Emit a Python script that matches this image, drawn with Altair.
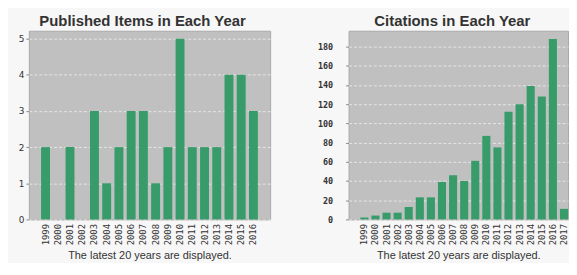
import altair as alt
import pandas as pd

years_pub = [str(y) for y in range(1999, 2017)]
items = [2, 0, 2, 0, 3, 1, 2, 3, 3, 1, 2, 5, 2, 2, 2, 4, 4, 3]

years_cit = [str(y) for y in range(1999, 2018)]
citations = [2, 4, 7, 7, 13, 23, 23, 39, 46, 40, 61, 87, 75, 112, 120, 139, 128, 188, 11]

pub_ticks = [0, 1, 2, 3, 4, 5]
cit_ticks = [0, 20, 40, 60, 80, 100, 120, 140, 160, 180]

subtitle = "The latest 20 years are displayed."
BAR = "#389c6a"
TXT = "#333333"

df1 = pd.DataFrame({"year": years_pub, "count": items})
df2 = pd.DataFrame({"year": years_cit, "count": citations})


def make(df, years, ticks, ymax, w, title, dx, ylab_font, ylab_weight, ylab_size, lab_pad,
         min_ext, p_outer, align):
    return alt.Chart(df).mark_bar(color=BAR).encode(
        x=alt.X("year:O", sort=years,
                scale=alt.Scale(paddingInner=0.27, paddingOuter=p_outer, align=align),
                axis=alt.Axis(title=subtitle, labelAngle=-90, ticks=False, domain=False,
                              labelFont="DejaVu Sans Mono", labelFontSize=9,
                              labelColor=TXT, labelPadding=4,
                              titleFont="Liberation Sans", titleFontSize=11,
                              titleFontWeight="normal", titleColor=TXT, titlePadding=5)),
        y=alt.Y("count:Q", scale=alt.Scale(domain=[0, ymax], nice=False),
                axis=alt.Axis(title=None, values=ticks, format="d", domain=False,
                              grid=True, gridColor="#eeeeee", gridDash=[3, 2], gridOpacity=0.8,
                              tickSize=3, tickColor="#888888",
                              labelFont=ylab_font, labelFontWeight=ylab_weight,
                              labelFontSize=ylab_size, labelColor=TXT,
                              labelPadding=lab_pad, minExtent=min_ext)),
    ).properties(
        width=w, height=190,
        title=alt.TitleParams(title, fontSize=15, font="Liberation Sans", fontWeight="bold",
                              color=TXT, anchor="middle", frame="group", dx=dx, offset=2),
    )


left = make(df1, years_pub, pub_ticks, 5.22, 243, "Published Items in Each Year", -7,
            "DejaVu Sans", "normal", 9, 2, 20, 1, 0.5)
right = make(df2, years_cit, cit_ticks, 196.5, 221, "Citations in Each Year", -6,
             "DejaVu Sans Mono", "bold", 8.5, 13, 37, 0.53, 1)

chart = alt.hconcat(left, right, spacing=40).properties(
    padding={"left": 0, "top": 4, "right": 0, "bottom": 0},
    background="#f7f7f7",
).configure_view(
    fill="#c0c0c0", stroke="#a8a8a8", strokeWidth=1
)

chart.save("out.html", embed_options={"renderer": "svg", "actions": False})
